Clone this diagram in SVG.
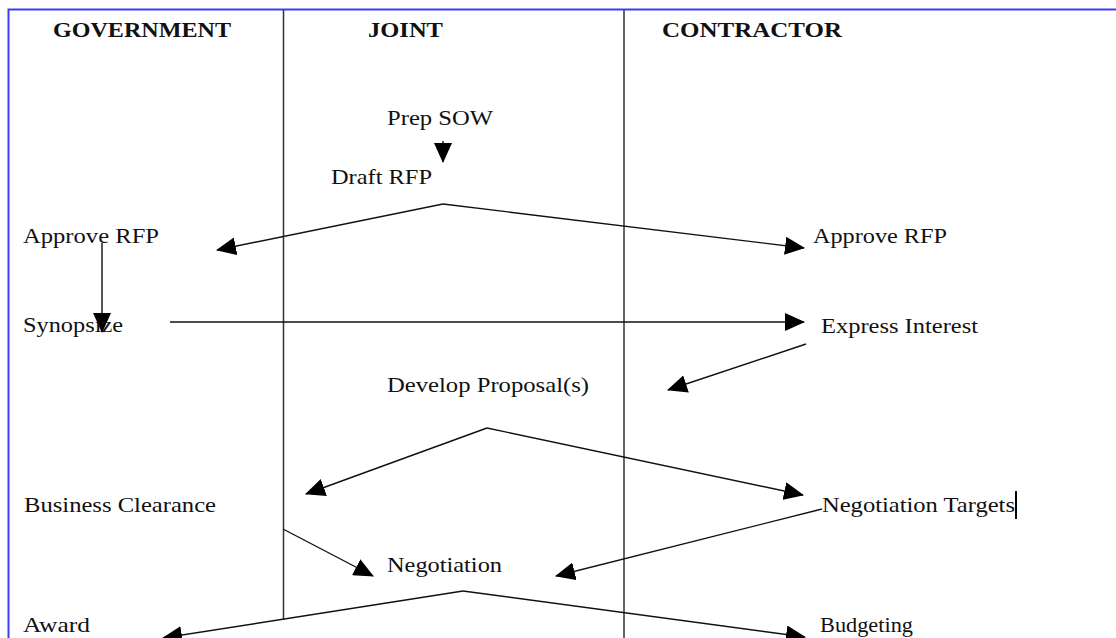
<svg xmlns="http://www.w3.org/2000/svg" width="1116" height="638" viewBox="0 0 1116 638">
  <style>
    .lbl { font-family: "Liberation Serif", "Times New Roman", serif; font-size: 22px; fill: #111; }
    .hdr { font-family: "Liberation Serif", "Times New Roman", serif; font-size: 22px; font-weight: bold; fill: #111; }
    .conn { stroke: #111; stroke-width: 1.4; fill: none; marker-end: url(#arr); }
    .lane { stroke: #333; stroke-width: 1.5; }
    .frame { stroke: #3c3cf5; stroke-width: 2; fill: none; }
  </style>
  <defs>
    <marker id="arr" viewBox="0 0 20 18" markerWidth="20" markerHeight="18" refX="19" refY="9" orient="auto" markerUnits="userSpaceOnUse">
      <path d="M0,0 L20,9 L0,18 Z" fill="#000"/>
    </marker>
  </defs>
  <rect width="1116" height="638" fill="#fff"/>

  <g id="frame">
    <path class="frame" d="M8.5,640 L8.5,9.5 L1117,9.5"/>
    <line class="lane" x1="283.5" y1="10" x2="283.5" y2="620"/>
    <line class="lane" x1="624" y1="10" x2="624" y2="640"/>
  </g>

  <g id="headers">
    <text class="hdr" x="53" y="37" textLength="178" lengthAdjust="spacingAndGlyphs">GOVERNMENT</text>
    <text class="hdr" x="368" y="37" textLength="75" lengthAdjust="spacingAndGlyphs">JOINT</text>
    <text class="hdr" x="662" y="37" textLength="180" lengthAdjust="spacingAndGlyphs">CONTRACTOR</text>
  </g>

  <g id="connectors">
    <line class="conn" x1="443" y1="141" x2="443" y2="162"/>
    <polyline class="conn" points="443,204 217,250"/>
    <polyline class="conn" points="443,204 804,248"/>
    <line class="conn" x1="102" y1="243" x2="102" y2="332"/>
    <line class="conn" x1="170" y1="322" x2="804" y2="322"/>
    <line class="conn" x1="806" y1="344" x2="668" y2="390"/>
    <polyline class="conn" points="487,428 306,494"/>
    <polyline class="conn" points="487,428 803,495"/>
    <line class="conn" x1="822" y1="509" x2="556" y2="576"/>
    <line class="conn" x1="283" y1="529" x2="373" y2="576"/>
    <polyline class="conn" points="463,591 163,638"/>
    <polyline class="conn" points="463,591 805,637"/>
  </g>

  <g id="prep-sow"><text class="lbl" x="387" y="125" textLength="106" lengthAdjust="spacingAndGlyphs">Prep SOW</text></g>
  <g id="draft-rfp"><text class="lbl" x="331" y="184" textLength="101" lengthAdjust="spacingAndGlyphs">Draft RFP</text></g>
  <g id="gov-approve-rfp"><text class="lbl" x="23" y="243" textLength="136" lengthAdjust="spacingAndGlyphs">Approve RFP</text></g>
  <g id="synopsize"><text class="lbl" x="23" y="332" textLength="100" lengthAdjust="spacingAndGlyphs">Synopsize</text></g>
  <g id="con-approve-rfp"><text class="lbl" x="813" y="243" textLength="134" lengthAdjust="spacingAndGlyphs">Approve RFP</text></g>
  <g id="express-interest"><text class="lbl" x="821" y="333" textLength="157" lengthAdjust="spacingAndGlyphs">Express Interest</text></g>
  <g id="develop-proposals"><text class="lbl" x="387" y="392" textLength="202" lengthAdjust="spacingAndGlyphs">Develop Proposal(s)</text></g>
  <g id="business-clearance"><text class="lbl" x="24" y="512" textLength="192" lengthAdjust="spacingAndGlyphs">Business Clearance</text></g>
  <g id="negotiation-targets">
    <text class="lbl" x="822" y="512" textLength="193" lengthAdjust="spacingAndGlyphs">Negotiation Targets</text>
    <rect x="1015" y="491" width="2" height="28" fill="#000"/>
  </g>
  <g id="negotiation"><text class="lbl" x="387" y="572" textLength="115" lengthAdjust="spacingAndGlyphs">Negotiation</text></g>
  <g id="award"><text class="lbl" x="23" y="632" textLength="67" lengthAdjust="spacingAndGlyphs">Award</text></g>
  <g id="budgeting"><text class="lbl" x="820" y="632" textLength="93" lengthAdjust="spacingAndGlyphs">Budgeting</text></g>
</svg>
